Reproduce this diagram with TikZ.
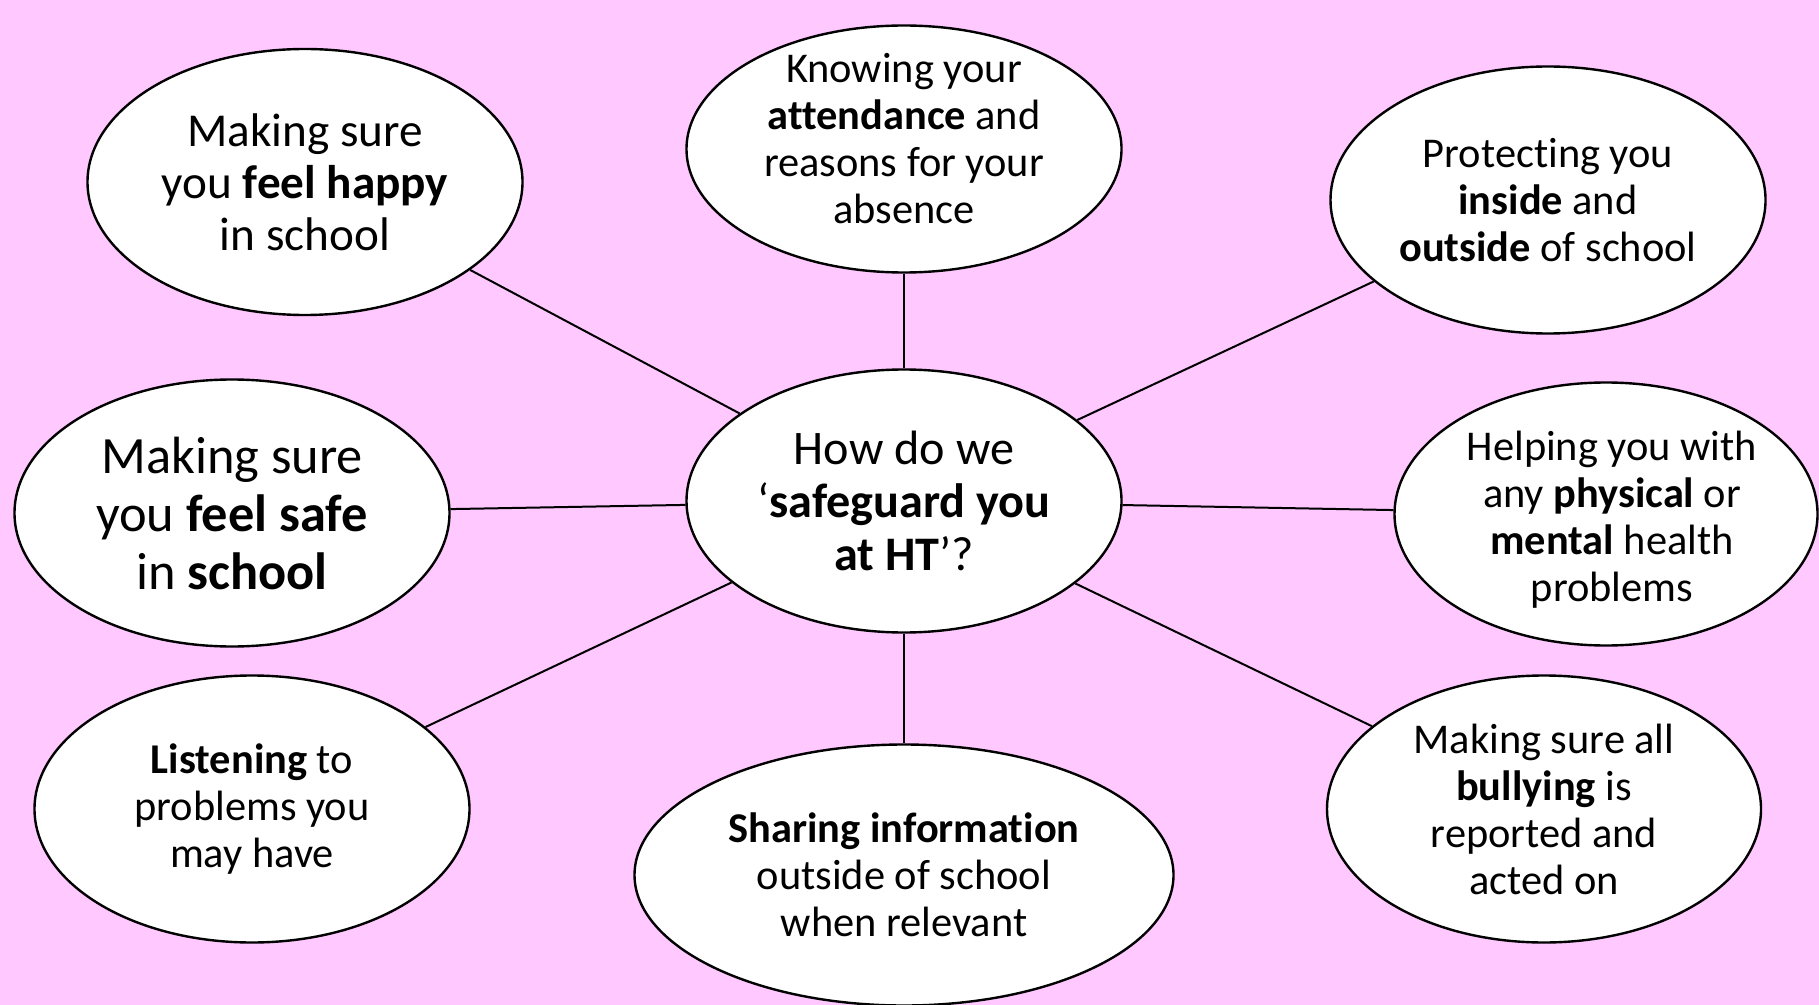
\documentclass[tikz,border=0pt]{standalone}
\usepackage{fontspec}
\setmainfont{Carlito}[Ligatures=NoCommon]
\usetikzlibrary{shapes.geometric}

\definecolor{bgpink}{RGB}{255,200,255}

\tikzset{
  bubble/.style={ellipse, draw=black, line width=1.2pt, fill=white, inner sep=0pt,
                 align=center, minimum width=217.5pt, minimum height=133pt},
  spoke/.style={line width=1pt, black},
  small/.style={font=\fontsize{21.2}{23.5}\selectfont},
  mid/.style={font=\fontsize{23.6}{26.1}\selectfont},
  big/.style={font=\fontsize{26.2}{29}\selectfont}
}

\begin{document}
\begin{tikzpicture}[x=0.5pt, y=-0.5pt]
    \fill[bgpink] (0,0) rectangle (1819,1005); % background
\useasboundingbox (0,0) rectangle (1819,1005);
\node[bubble, font=\fontsize{24.1}{26.7}\selectfont, minimum height=131.5pt] (hub) at (904,501) {How do we\\‘\textbf{safeguard you}\\\textbf{at HT}’?}; % hub 
\node[bubble, mid] (happy) at (305,182) {Making sure\\you \textbf{feel happy}\\in school}; % happy 
\node[bubble, minimum height=123.5pt] (attend) at (904,149) {}; % attend 
\node[small, align=center, inner sep=0pt] (attendtxt) at ([yshift=5pt]attend.center) {Knowing your\\\textbf{attendance} and\\reasons for your\\absence}; % attend text 
\node[bubble, small, minimum height=133.5pt] (protect) at (1548,200) {Protecting you\\\textbf{inside} and\\\textbf{outside} of school}; % protect 
\node[bubble, big, minimum height=133.5pt] (safe) at (232,513) {Making sure\\you \textbf{feel safe}\\in \textbf{school}}; % safe 
\node[bubble, minimum width=211.5pt, minimum height=131.5pt] (health) at (1606,514) {}; % health 
\node[small, align=center, inner sep=0pt] (healthtxt) at ([xshift=3pt, yshift=-3pt]health.center) {Helping you with\\any \textbf{physical} or\\\textbf{mental} health\\problems}; % health text 
\node[bubble, small, minimum height=133.5pt] (listen) at (252,809) {\textbf{Listening} to\\problems you\\may have}; % listen 
\node[bubble, small, minimum width=269.5pt, minimum height=130.5pt] (share) at (904,875) {\textbf{Sharing information}\\outside of school\\when relevant}; % share 
\node[bubble, small, minimum width=217pt, minimum height=133.5pt] (bully) at (1544,809) {Making sure all\\\textbf{bullying} is\\reported and\\acted on}; % bully 
\draw[spoke] (hub) -- (happy) ; % hub-happy 
\draw[spoke] (hub) -- (attend) ; % hub-attend 
\draw[spoke] (hub) -- (protect) ; % hub-protect 
\draw[spoke] (hub) -- (safe) ; % hub-safe 
\draw[spoke] (hub) -- (health) ; % hub-health 
\draw[spoke] (hub) -- (listen) ; % hub-listen 
\draw[spoke] (hub) -- (share) ; % hub-share 
\draw[spoke] (hub) -- (bully) ; % hub-bully 

    \end{tikzpicture}
\end{document}
